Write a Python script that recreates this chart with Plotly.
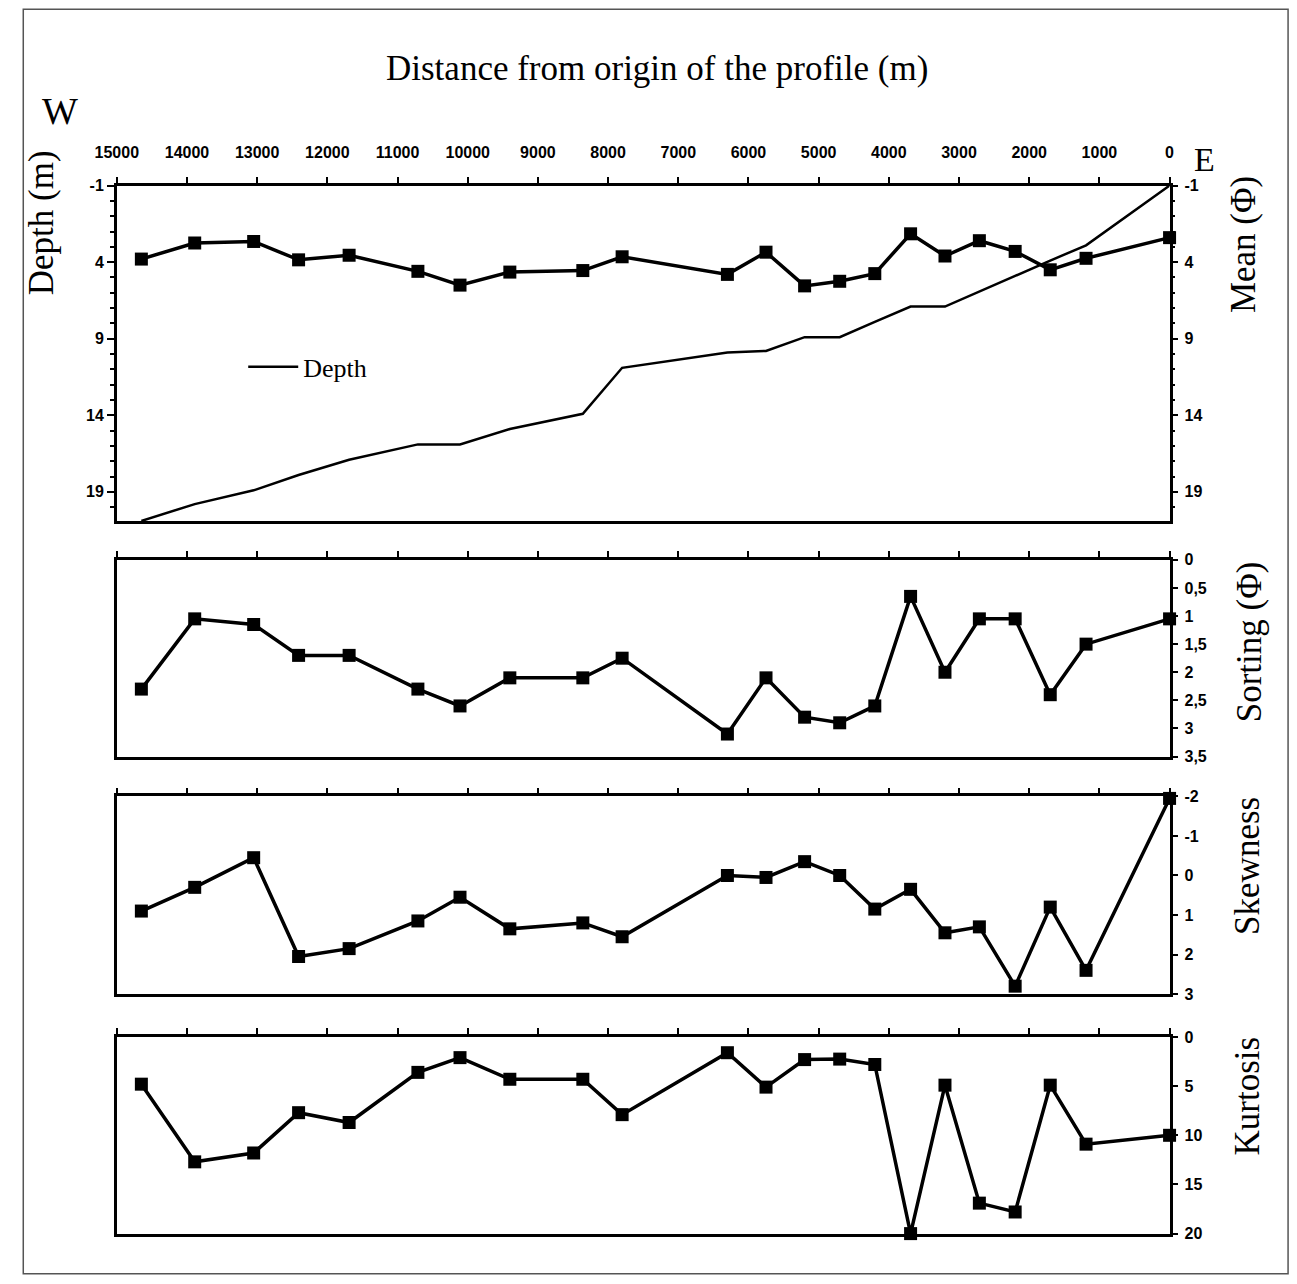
import plotly.graph_objects as go

# ---------------- data ----------------
distance = [14650, 13890, 13050, 12410, 11690, 10710, 10110, 9400, 8360, 7800,
            6300, 5750, 5200, 4700, 4200, 3690, 3200, 2710, 2200, 1700, 1190, 0]
depth = [20.9, 19.8, 18.9, 17.9, 16.9, 15.9, 15.9, 14.9, 13.9, 10.9,
         9.9, 9.8, 8.9, 8.9, 7.9, 6.9, 6.9, 5.9, 4.9, 3.9, 2.9, -1]
mean_phi = [3.8, 2.75, 2.65, 3.85, 3.55, 4.6, 5.5, 4.65, 4.55, 3.65,
            4.8, 3.35, 5.55, 5.25, 4.75, 2.15, 3.6, 2.6, 3.3, 4.5, 3.75, 2.4]
sorting = [2.3, 1.05, 1.15, 1.7, 1.7, 2.3, 2.6, 2.1, 2.1, 1.75,
           3.1, 2.1, 2.8, 2.9, 2.6, 0.65, 2.0, 1.05, 1.05, 2.4, 1.5, 1.05]
skewness = [0.9, 0.3, -0.45, 2.05, 1.85, 1.15, 0.55, 1.35, 1.2, 1.55,
            0.0, 0.05, -0.35, 0.0, 0.85, 0.35, 1.45, 1.3, 2.8, 0.8, 2.4, -1.95]
kurtosis = [4.8, 12.7, 11.8, 7.7, 8.7, 3.6, 2.1, 4.3, 4.3, 7.9,
            1.6, 5.1, 2.3, 2.25, 2.8, 20.0, 4.9, 16.9, 17.8, 4.9, 10.9, 10.0]

x_ticks = list(range(15000, -1, -1000))
x_labels = [str(v) for v in x_ticks]
depth_ticks = [-1, 4, 9, 14, 19]
depth_labels = ["-1", "4", "9", "14", "19"]
sorting_ticks = [0, 0.5, 1, 1.5, 2, 2.5, 3, 3.5]
sorting_labels = ["0", "0,5", "1", "1,5", "2", "2,5", "3", "3,5"]
skew_ticks = [-2, -1, 0, 1, 2, 3]
skew_labels = ["-2", "-1", "0", "1", "2", "3"]
kurt_ticks = [0, 5, 10, 15, 20]
kurt_labels = ["0", "5", "10", "15", "20"]

# ---------------- layout helpers ----------------
W, H = 1297, 1284
AX, SX = 10.0, 0.9915     # page placement correction (observed)
AY, SY = 7.1, 0.9886
def px_x(p): return ((p - AX) / SX) / W
def px_y(p): return 1 - ((p - AY) / SY) / H

XL, XR = 106, 1172
xdom = [px_x(XL), px_x(XR)]
doms = [
    [px_y(521), px_y(185)],
    [px_y(757), px_y(560)],
    [px_y(995), px_y(797)],
    [px_y(1235), px_y(1038)],
]

serif = "Liberation Serif, Times New Roman, serif"
tickfont = dict(family="Liberation Sans, Arial, sans-serif", size=16, color="black", weight="bold")
LW = 2.5

line_style = dict(color="black", width=3.5)
marker_style = dict(symbol="square", size=13, color="black")

fig = go.Figure()

fig.add_trace(go.Scatter(x=distance, y=depth, mode="lines", name="Depth",
                         line=dict(color="black", width=2.5),
                         xaxis="x", yaxis="y", showlegend=True))
fig.add_trace(go.Scatter(x=distance, y=mean_phi, mode="lines+markers", name="Mean",
                         line=line_style, marker=marker_style,
                         xaxis="x", yaxis="y2", showlegend=False, cliponaxis=False))
fig.add_trace(go.Scatter(x=distance, y=sorting, mode="lines+markers", name="Sorting",
                         line=line_style, marker=marker_style,
                         xaxis="x2", yaxis="y3", showlegend=False, cliponaxis=False))
fig.add_trace(go.Scatter(x=distance, y=skewness, mode="lines+markers", name="Skewness",
                         line=line_style, marker=marker_style,
                         xaxis="x3", yaxis="y4", showlegend=False, cliponaxis=False))
fig.add_trace(go.Scatter(x=distance, y=kurtosis, mode="lines+markers", name="Kurtosis",
                         line=line_style, marker=marker_style,
                         xaxis="x4", yaxis="y5", showlegend=False, cliponaxis=False))

xr = [15000, 0]
layout = dict(
    width=W, height=H,
    margin=dict(l=0, r=0, t=0, b=0),
    paper_bgcolor="white", plot_bgcolor="white",
    legend=dict(x=px_x(234), y=px_y(343), xanchor="left", yanchor="top",
                font=dict(family=serif, size=26, color="black"),
                bgcolor="rgba(0,0,0,0)", itemwidth=50),
)

yaxis_ids = ["y", "y3", "y4", "y5"]
for i in range(4):
    xname = "xaxis" if i == 0 else f"xaxis{i+1}"
    layout[xname] = dict(
        domain=xdom, range=xr, anchor=yaxis_ids[i], side="top",
        tickmode="array", tickvals=x_ticks, ticktext=x_labels,
        ticks="outside", ticklen=6, tickwidth=2, tickcolor="black",
        showline=True, linecolor="black", linewidth=LW, mirror=True,
        showgrid=False, zeroline=False,
        showticklabels=(i == 0), tickfont=tickfont, ticklabelstandoff=12,
    )
    # overlay axis for inward half of crossing ticks
    layout[f"xaxis{i+5}"] = dict(
        overlaying="x" if i == 0 else f"x{i+1}", anchor=yaxis_ids[i], side="top",
        range=xr, tickmode="array", tickvals=x_ticks,
        ticks="inside", ticklen=6, tickwidth=2, tickcolor="black",
        showline=False, showgrid=False, zeroline=False, showticklabels=False,
    )

common_y = dict(showgrid=False, zeroline=False, showline=True, linecolor="black",
                linewidth=LW, tickcolor="black", tickwidth=2, tickfont=tickfont)

layout["yaxis"] = dict(common_y, domain=doms[0], anchor="x", side="left",
                       range=[20.9, -1], tickmode="array", tickvals=depth_ticks,
                       ticktext=depth_labels,
                       ticks="outside", ticklen=7, ticklabelstandoff=0,
                       minor=dict(tick0=-1, dtick=1, ticks="outside", ticklen=4,
                                  tickwidth=1.5, tickcolor="black"))
layout["yaxis2"] = dict(common_y, overlaying="y", anchor="x", side="right",
                        range=[20.9, -1], tickmode="array", tickvals=depth_ticks,
                        ticktext=depth_labels,
                        ticks="outside", ticklen=6, ticklabelstandoff=3,
                        minor=dict(tick0=-1, dtick=1, ticks="outside", ticklen=3,
                                   tickwidth=1.5, tickcolor="black"))
layout["yaxis3"] = dict(common_y, domain=doms[1], anchor="x2", side="right", mirror=True,
                        range=[3.5, 0], tickmode="array", tickvals=sorting_ticks,
                        ticktext=sorting_labels, ticks="outside", ticklen=6,
                        ticklabelstandoff=3)
layout["yaxis4"] = dict(common_y, domain=doms[2], anchor="x3", side="right", mirror=True,
                        range=[3, -2], tickmode="array", tickvals=skew_ticks,
                        ticktext=skew_labels, ticks="outside", ticklen=6,
                        ticklabelstandoff=3)
layout["yaxis5"] = dict(common_y, domain=doms[3], anchor="x4", side="right", mirror=True,
                        range=[20, 0], tickmode="array", tickvals=kurt_ticks,
                        ticktext=kurt_labels, ticks="outside", ticklen=6,
                        ticklabelstandoff=3)

fig.update_layout(**layout)

ann_font = dict(family=serif, size=35, color="black")
annotations = [
    dict(text="Distance from origin of the profile (m)", x=px_x(653), y=px_y(68),
         font=ann_font),
    dict(text="W", x=px_x(48), y=px_y(110), font=dict(family=serif, size=38, color="black")),
    dict(text="E", x=px_x(1207), y=px_y(159), font=dict(family=serif, size=34, color="black")),
    dict(text="Depth (m)", x=px_x(30), y=px_y(222), textangle=-90, font=ann_font),
    dict(text="Mean (Φ)", x=px_x(1247), y=px_y(244), textangle=-90, font=ann_font),
    dict(text="Sorting (Φ)", x=px_x(1253), y=px_y(642), textangle=-90, font=ann_font),
    dict(text="Skewness", x=px_x(1251), y=px_y(867), textangle=-90, font=ann_font),
    dict(text="Kurtosis", x=px_x(1251), y=px_y(1097), textangle=-90, font=ann_font),
]
for a in annotations:
    a.update(xref="paper", yref="paper", showarrow=False, xanchor="center", yanchor="middle")
fig.update_layout(annotations=annotations)

fig.add_shape(type="rect", xref="paper", yref="paper",
              x0=0.001, x1=px_x(1292), y0=0.001, y1=0.999,
              line=dict(color="#555555", width=1.5), fillcolor="rgba(0,0,0,0)")

fig.write_html("out.html")
